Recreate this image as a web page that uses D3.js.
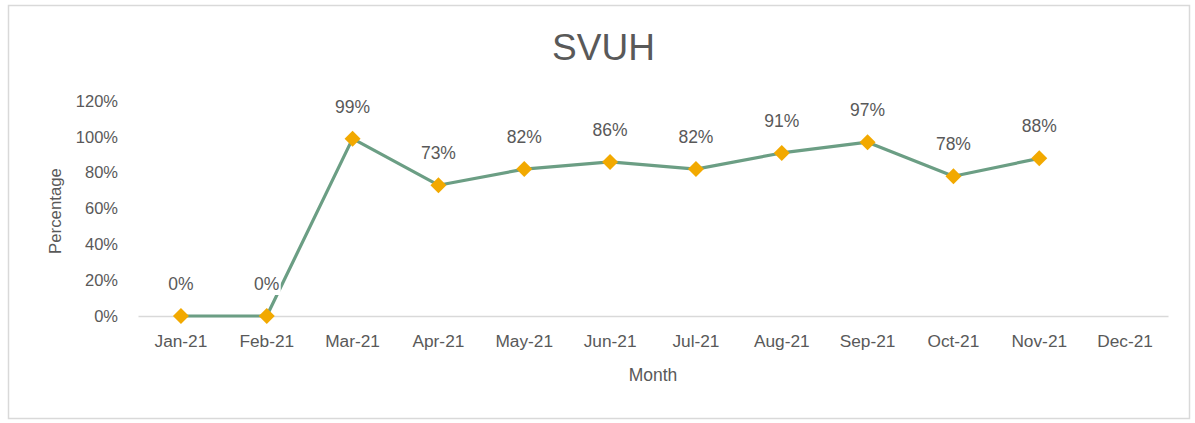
<!DOCTYPE html>
<html>
<head>
<meta charset="utf-8">
<script src="https://cdn.jsdelivr.net/npm/d3@7/dist/d3.min.js"></script>
<style>
  body { margin: 0; background: #fff; }
  text { font-family: "Liberation Sans", Arial, sans-serif; fill: #595959; }
</style>
</head>
<body>
<div id="chart"></div>
<script>
// data
var months = ["Jan-21","Feb-21","Mar-21","Apr-21","May-21","Jun-21","Jul-21","Aug-21","Sep-21","Oct-21","Nov-21","Dec-21"];
var values = [0, 0, 99, 73, 82, 86, 82, 91, 97, 78, 88, null];
var yTicks = [0, 20, 40, 60, 80, 100, 120];

var W = 1195, H = 423;
var margin = {left: 138, right: 27, top: 101, bottom: 107}; // plot 138..1168, 101..316

var svg = d3.select("#chart").append("svg")
  .attr("width", W).attr("height", H);

// outer chart border
svg.append("rect")
  .attr("x", 8.5).attr("y", 5.5)
  .attr("width", 1181).attr("height", 413)
  .attr("fill", "#fff").attr("stroke", "#d9d9d9").attr("stroke-width", 1.5);

var x = d3.scaleBand().domain(months)
  .range([margin.left, W - margin.right]);
var y = d3.scaleLinear().domain([0, 120])
  .range([H - margin.bottom, margin.top]);

// title
svg.append("text")
  .attr("x", W/2 + 6).attr("y", 60)
  .attr("text-anchor", "middle")
  .style("font-size", "37px")
  .text("SVUH");

// y axis labels (no line)
var yAxis = d3.axisLeft(y).tickValues(yTicks)
  .tickSize(0).tickPadding(20)
  .tickFormat(function(d){ return d + "%"; });
var gy = svg.append("g")
  .attr("transform", "translate(" + margin.left + ",0)")
  .call(yAxis);
gy.select(".domain").remove();
gy.selectAll("text").style("font-size", "16.5px").style("fill", "#595959")
  .style("font-family", "'Liberation Sans', Arial, sans-serif");

// x axis
var xAxis = d3.axisBottom(x).tickSize(0).tickPadding(19);
var gx = svg.append("g")
  .attr("transform", "translate(0," + y(0) + ")")
  .call(xAxis);
gx.select(".domain").attr("stroke", "#d9d9d9").attr("stroke-width", 1.5);
gx.selectAll("text").style("font-size", "17.3px").style("fill", "#595959")
  .style("font-family", "'Liberation Sans', Arial, sans-serif");

// axis titles
svg.append("text")
  .attr("x", (margin.left + W - margin.right)/2).attr("y", 381)
  .attr("text-anchor", "middle")
  .style("font-size", "17.5px")
  .text("Month");
svg.append("text")
  .attr("transform", "translate(61," + 211 + ") rotate(-90)")
  .attr("text-anchor", "middle")
  .style("font-size", "16.8px")
  .text("Percentage");

var pts = months.map(function(m, i){ return {m: m, v: values[i]}; })
  .filter(function(d){ return d.v !== null; });

var cx = function(d){ return x(d.m) + x.bandwidth()/2; };

var line = d3.line()
  .x(cx)
  .y(function(d){ return y(d.v); });

svg.append("path")
  .datum(pts)
  .attr("fill", "none")
  .attr("stroke", "#6b9e84")
  .attr("stroke-width", 3.2)
  .attr("stroke-linejoin", "round")
  .attr("d", line);

// diamond markers
svg.selectAll(".mk")
  .data(pts)
  .enter().append("path")
  .attr("class", "mk")
  .attr("d", "M0,-8L8,0L0,8L-8,0Z")
  .attr("fill", "#f2a900")
  .attr("transform", function(d){ return "translate(" + cx(d) + "," + y(d.v) + ")"; });

// data labels with white backing
var lab = svg.selectAll(".lab")
  .data(pts)
  .enter().append("g")
  .attr("class", "lab")
  .attr("transform", function(d){ return "translate(" + cx(d) + "," + (y(d.v) - 32) + ")"; });
lab.append("rect")
  .attr("x", function(d){ return d.v < 10 ? -14 : -20; })
  .attr("y", -11)
  .attr("width", function(d){ return d.v < 10 ? 28 : 40; })
  .attr("height", 22)
  .attr("fill", "#fff");
lab.append("text")
  .attr("text-anchor", "middle")
  .attr("dy", "0.35em")
  .style("font-size", "17.5px")
  .text(function(d){ return d.v + "%"; });
</script>
</body>
</html>
